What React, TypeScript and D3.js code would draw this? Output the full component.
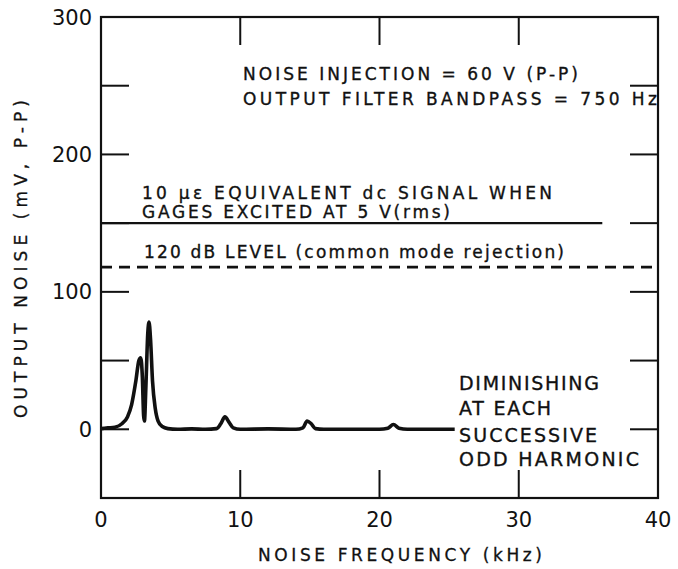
import React, { useEffect, useRef } from "react";
import * as d3 from "d3";

// ── Data ──────────────────────────────────────────────────────────────────
// noise spectrum, [kHz, mV p-p]
const NOISE_KHZ = [0, 0.5, 1, 1.5, 1.9, 2.2, 2.5, 2.72, 2.85, 2.97, 3.06, 3.12, 3.22, 3.36, 3.45, 3.56, 3.7, 3.9, 4.1, 4.4, 4.8, 5.5, 6.5, 7.5, 8.3, 8.6, 8.9, 9.2, 9.5, 10, 12, 14, 14.5, 14.8, 15.1, 15.4, 16, 18, 20, 20.6, 21, 21.4, 22, 24, 25.4];
const NOISE_MV = [0.5, 1, 1.5, 4, 9, 18, 35, 50, 52, 38, 10, 6, 30, 70, 78, 65, 35, 15, 6, 2, 0.5, 0, 0.3, 0, 0.5, 4, 9, 5, 1, 0, 0.3, 0, 1, 6, 4, 0.5, 0, 0, 0, 0.8, 3.5, 0.8, 0, 0, 0];

const STRAIN_LEVEL = 150;   // 10 µε equivalent
const STRAIN_END_KHZ = 36;
const CMR_LEVEL = 118;      // 120 dB level

const X_TICKS = [0, 10, 20, 30, 40];
const Y_TICKS = [300, 200, 100, 0];
const X_MINOR = [10, 20, 30];
const Y_MINOR = [250, 200, 150, 100, 50, 0];

const FONT = "DejaVu Sans, sans-serif";
const INK = "#111";

const W = 678;
const H = 569;
const X0 = 101, X1 = 658, Y0 = 498, Y1 = 17;
const TICK = 28;

const App = () => {
    const svgRef = useRef<SVGSVGElement>(null);

    useEffect(() => {
        if (!svgRef.current) return;
        const svg = d3.select(svgRef.current);
        svg.selectAll("*").remove();

        const x = d3.scaleLinear().domain([0, 40]).range([X0, X1]);
        const y = d3.scaleLinear().domain([-50, 300]).range([Y0, Y1]);

        svg.append("rect").attr("width", W).attr("height", H).attr("fill", "#fff");

        // ── Frame + inner ticks ───────────────────────────────────────────
        svg.append("rect")
            .attr("x", X0).attr("y", Y1)
            .attr("width", X1 - X0).attr("height", Y0 - Y1)
            .attr("fill", "none").attr("stroke", INK).attr("stroke-width", 2.2);

        const ticksG = svg.append("g").attr("stroke", INK).attr("stroke-width", 2);
        Y_MINOR.forEach(v => {
            ticksG.append("line").attr("x1", X0).attr("x2", X0 + TICK).attr("y1", y(v)).attr("y2", y(v));
            ticksG.append("line").attr("x1", X1 - TICK).attr("x2", X1).attr("y1", y(v)).attr("y2", y(v));
        });
        X_MINOR.forEach(v => {
            ticksG.append("line").attr("x1", x(v)).attr("x2", x(v)).attr("y1", Y1).attr("y2", Y1 + TICK);
            ticksG.append("line").attr("x1", x(v)).attr("x2", x(v)).attr("y1", Y0 - TICK).attr("y2", Y0);
        });

        // ── Tick labels ───────────────────────────────────────────────────
        Y_TICKS.forEach(v => {
            svg.append("text")
                .attr("x", 92).attr("y", y(v) + 7.5)
                .attr("text-anchor", "end")
                .attr("font-family", FONT).attr("font-size", "21px").attr("fill", INK)
                .text(v);
        });
        X_TICKS.forEach(v => {
            svg.append("text")
                .attr("x", x(v)).attr("y", 527)
                .attr("text-anchor", "middle")
                .attr("font-family", FONT).attr("font-size", "21px").attr("fill", INK)
                .text(v);
        });

        // ── Axis titles ───────────────────────────────────────────────────
        svg.append("text")
            .attr("x", 258).attr("y", 561)
            .attr("font-family", FONT).attr("font-size", "17px").attr("fill", INK)
            .attr("stroke", INK).attr("stroke-width", 0.3)
            .attr("textLength", 284).attr("lengthAdjust", "spacing")
            .text("NOISE FREQUENCY (kHz)");

        svg.append("text")
            .attr("transform", "translate(27,418) rotate(-90)")
            .attr("font-family", FONT).attr("font-size", "17px").attr("fill", INK)
            .attr("stroke", INK).attr("stroke-width", 0.3)
            .attr("textLength", 318).attr("lengthAdjust", "spacing")
            .text("OUTPUT NOISE (mV, P-P)");

        // ── Reference lines ───────────────────────────────────────────────
        svg.append("line")
            .attr("x1", x(0)).attr("x2", x(STRAIN_END_KHZ))
            .attr("y1", y(STRAIN_LEVEL)).attr("y2", y(STRAIN_LEVEL))
            .attr("stroke", INK).attr("stroke-width", 2.2);

        svg.append("line")
            .attr("x1", x(0)).attr("x2", x(40))
            .attr("y1", y(CMR_LEVEL)).attr("y2", y(CMR_LEVEL))
            .attr("stroke", INK).attr("stroke-width", 2.6)
            .attr("stroke-dasharray", "11,7");

        // ── Noise curve ───────────────────────────────────────────────────
        const pts: [number, number][] = NOISE_KHZ.map((k, i) => [k, NOISE_MV[i]]);
        const line = d3.line<[number, number]>()
            .x(d => x(d[0])).y(d => y(d[1]))
            .curve(d3.curveMonotoneX);
        svg.append("path")
            .datum(pts)
            .attr("d", line)
            .attr("fill", "none").attr("stroke", INK)
            .attr("stroke-width", 3.6).attr("stroke-linejoin", "round");

        // ── Annotations ───────────────────────────────────────────────────
        const note = (txt: string, tx: number, ty: number, len: number, size = 17) =>
            svg.append("text")
                .attr("x", tx).attr("y", ty)
                .attr("font-family", FONT).attr("font-size", `${size}px`).attr("fill", INK)
                .attr("stroke", INK).attr("stroke-width", 0.35)
                .attr("textLength", len).attr("lengthAdjust", "spacing")
                .text(txt);

        note("NOISE INJECTION = 60 V (P-P)", 243, 80, 335);
        note("OUTPUT FILTER BANDPASS = 750 Hz", 243, 105, 414);
        note("10 με EQUIVALENT dc SIGNAL WHEN", 142, 199, 410);
        note("GAGES EXCITED AT 5 V(rms)", 142, 218, 308);
        note("120 dB LEVEL (common mode rejection)", 144, 258, 420);

        note("DIMINISHING", 459, 390, 140, 19);
        note("AT EACH", 459, 415, 92, 19);
        note("SUCCESSIVE", 459, 442, 138, 19);
        note("ODD HARMONIC", 459, 466, 180, 19);
    }, []);

    return (
        <svg
            ref={svgRef}
            width={W}
            height={H}
            style={{ position: "absolute", left: 0, top: 0 }}
        />
    );
};

export default App;
